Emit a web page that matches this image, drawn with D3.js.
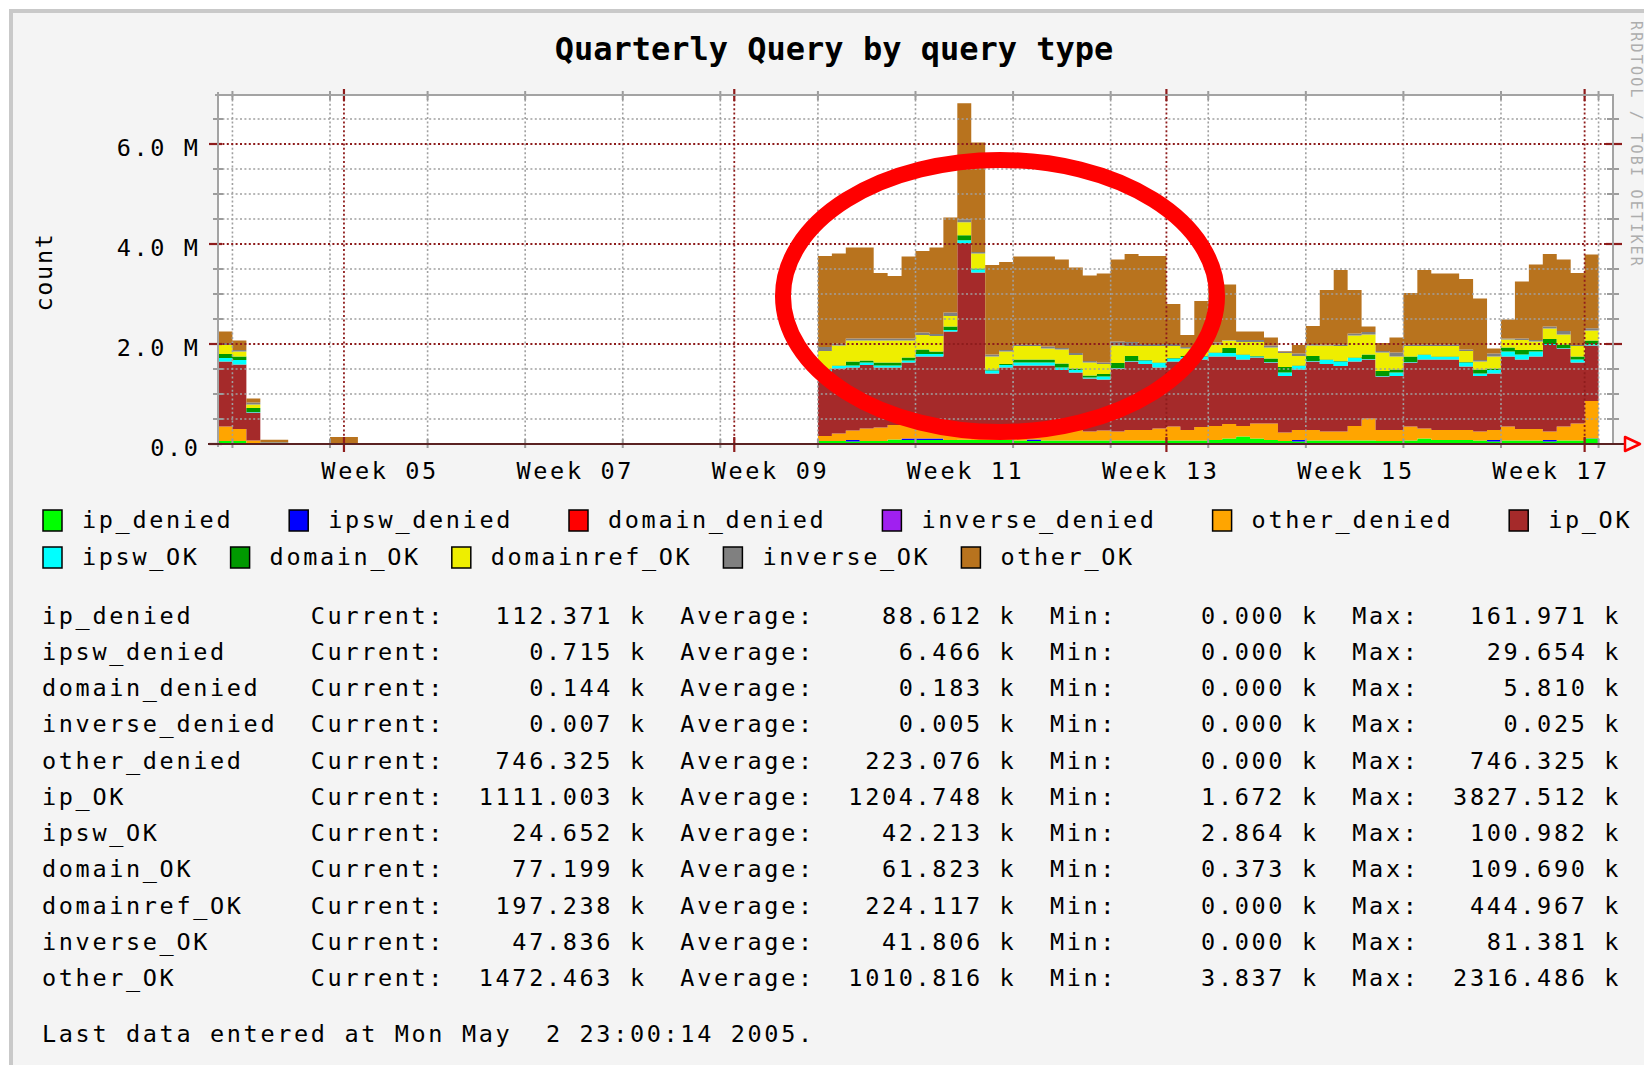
<!DOCTYPE html>
<html><head><meta charset="utf-8">
<script src="https://cdn.jsdelivr.net/npm/d3@7"></script>
<style>
html,body{margin:0;padding:0;background:#fff;}
svg{display:block;}
text{font-family:"DejaVu Sans Mono",monospace;fill:#000;}
.mono{white-space:pre;}
</style></head><body>
<svg id="c" width="1644" height="1065"></svg>
<script>
// ---------------- DATA (values in millions of queries, one per day) ----------------
// Two periods with data: Jan 23 - Feb 1 2005 (10 days) and Mar 7 - May 1 2005 (56 days)
const periods = [["2005-01-23", "2005-02-02"], ["2005-03-07", "2005-05-02"]];

const seriesNames = ["ip_denied","ipsw_denied","domain_denied","inverse_denied","other_denied",
                     "ip_OK","ipsw_OK","domain_OK","domainref_OK","inverse_OK","other_OK"];
const seriesColors = ["#00ff00","#0000ff","#ff0000","#a020f0","#ffa500",
                      "#a52a2a","#00ffff","#009900","#eeee00","#808080","#b8731e"];

const ip_denied = [
  .06,.06,.02,0,0,0,0,0,0,0,
  .06,.06,.05,.06,.06,.09,.08,.08,.08,.08,.08,.08,.08,.08,.07,.06,.07,.07,.07,.07,.07,.07,.07,.07,.07,
  .07,.07,.07,.08,.11,.15,.11,.08,.06,.05,.07,.07,.07,.07,.07,.06,.06,.07,.11,.08,.08,.08,.07,.05,.07,.07,.07,.05,.07,.07,
  .112];
const ipsw_denied = [
  0,0,0,0,0,0,0,0,0,0,
  0,0,.03,0,0,0,.03,.03,.03,0,0,0,0,0,0,.03,0,0,0,0,0,0,0,0,0,
  0,0,0,0,0,0,0,0,0,.03,0,0,0,0,0,0,0,0,0,0,0,0,0,.03,0,0,0,.03,0,0,
  .0007];
const domain_denied = [
  0,0,0,0,0,0,0,0,0,0,
  0,0,0,0,0,0,0,0,0,0,.0058,0,0,0,0,0,0,0,0,0,0,0,0,0,0,
  0,0,0,0,0,0,0,0,0,0,0,0,0,0,0,0,0,0,0,0,0,0,0,0,0,0,0,0,0,0,
  .000144];
const inverse_denied = [
  0,0,0,0,0,0,0,0,0,0,
  0,0,0,0,0,0,0,0,0,0,0,0,0,0,0,0,0,0,0,0,0,0,0,0,0,
  0,0,0,0,0,0,0,0,0,0,0,0,0,0,0,0,0,0,0,0,0,0,0,0,0,0,0,0,0,0,
  .000007];
const other_denied = [
  .29,.24,.05,.01,.01,.005,.005,.005,0,0,
  .10,.15,.19,.25,.27,.29,.29,.30,.30,.33,.10,.25,.30,.30,.31,.29,.31,.28,.21,.18,.20,.18,.21,.21,.24,
  .28,.21,.27,.28,.29,.21,.30,.33,.17,.20,.21,.18,.18,.29,.44,.22,.22,.28,.20,.20,.20,.20,.18,.20,.28,.23,.23,.17,.28,.34,
  .746];
const ip_OK = [
  1.30,1.29,.56,.02,.02,.0017,.002,.002,.01,.01,
  1.27,1.30,1.26,1.27,1.20,1.15,1.23,1.34,1.34,1.84,3.83,3.10,1.03,1.15,1.19,1.19,1.19,1.13,1.15,1.06,1.02,1.26,1.37,1.32,1.22,
  1.30,1.42,1.35,1.39,1.35,1.33,1.32,1.22,1.13,1.21,1.37,1.35,1.31,1.29,1.18,1.07,1.08,1.28,1.38,1.41,1.41,1.27,1.11,1.13,1.40,1.39,1.45,1.73,1.56,1.22,
  1.111];
const ipsw_OK = [
  .07,.09,.01,.003,.003,.003,.003,.003,.003,.003,
  .06,.05,.04,.05,.04,.04,.04,.05,.05,.03,.06,.06,.06,.05,.06,.06,.06,.05,.05,.02,.06,.01,.01,.07,.09,
  .06,.04,.06,.07,.07,.09,.02,.01,.07,.07,.01,.08,.09,.07,.01,.01,.07,.01,.09,.05,.05,.08,.05,.07,.10,.10,.10,.02,.01,.06,
  .0247];
const domain_OK = [
  .08,.07,.08,.002,.002,.001,.001,.001,.001,.001,
  .01,.01,.08,.04,.06,.06,.06,.09,.05,.07,.10,.02,.02,.02,.06,.06,.06,.08,.03,.04,.05,.10,.10,.01,.01,
  .01,.02,.01,.01,.10,.01,.01,.07,.11,.01,.10,.01,.01,.01,.09,.10,.06,.11,.01,.01,.01,.01,.08,.03,.08,.09,.03,.10,.07,.06,
  .0772];
const domainref_OK = [
  .18,.10,.07,0,0,0,0,0,0,0,
  .36,.40,.42,.40,.44,.44,.34,.29,.31,.21,.26,.30,.26,.25,.27,.27,.22,.28,.27,.26,.20,.35,.20,.28,.33,
  .24,.15,.23,.16,.15,.25,.28,.22,.28,.19,.21,.28,.30,.44,.40,.37,.26,.21,.17,.21,.21,.22,.16,.24,.16,.20,.17,.21,.20,.21,
  .1972];
const inverse_OK = [
  .04,.03,.04,.002,.002,0,0,0,.001,.001,
  .08,.04,.04,.04,.04,.04,.04,.05,.04,.07,.06,.03,.04,.03,.03,.03,.04,.03,.04,.03,.03,.08,.08,.04,.04,
  .04,.03,.02,.04,.01,.04,.04,.04,.03,.05,.03,.02,.03,.04,.05,.03,.08,.03,.03,.03,.03,.03,.03,.06,.02,.03,.03,.04,.07,.02,
  .0478];
const other_OK = [
  .23,.19,.08,.048,.048,.0038,.005,.005,.125,.125,
  1.82,1.80,1.82,1.82,1.31,1.25,1.64,1.63,1.73,1.90,2.32,2.19,1.79,1.76,1.76,1.76,1.80,1.77,1.71,1.71,1.78,1.64,1.76,1.76,1.76,
  .80,.24,.85,1.16,1.11,.17,.17,.16,.01,.17,.36,1.09,1.49,.87,.11,.16,.30,1.03,1.49,1.42,1.42,1.41,1.23,.10,.38,1.14,1.51,1.45,1.43,1.44,
  1.4725];

const yTicks = [0, 2, 4, 6];
const yTickLabels = ["0.0", "2.0 M", "4.0 M", "6.0 M"];
const weekLabels = ["Week 05","Week 07","Week 09","Week 11","Week 13","Week 15","Week 17"];
const weekLabelDates = ["2005-02-03T12:00Z","2005-02-17T12:00Z","2005-03-03T12:00Z","2005-03-17T12:00Z",
                        "2005-03-31T12:00Z","2005-04-14T12:00Z","2005-04-28T12:00Z"];

const statCurrent = ["112.371","0.715","0.144","0.007","746.325","1111.003","24.652","77.199","197.238","47.836","1472.463"];
const statAverage = ["88.612","6.466","0.183","0.005","223.076","1204.748","42.213","61.823","224.117","41.806","1010.816"];
const statMin     = ["0.000","0.000","0.000","0.000","0.000","1.672","2.864","0.373","0.000","0.000","3.837"];
const statMax     = ["161.971","29.654","5.810","0.025","746.325","3827.512","100.982","109.690","444.967","81.381","2316.486"];

const titleText = "Quarterly Query by query type";
const yAxisTitle = "count";
const footerText = "Last data entered at Mon May  2 23:00:14 2005.";
const watermark = "RRDTOOL / TOBI OETIKER";

// ---------------- LAYOUT ----------------
const W = 1644, H = 1065;
const plot = {left: 218, right: 1613, top: 95, bottom: 444};
const ADV = 16.8;            // monospace character advance
const FS = 23.5;             // text font size
const LS = ADV - FS * 0.6021; // letter spacing to reach advance

const svg = d3.select("#c");

// background + frame
svg.append("rect").attr("width", W).attr("height", H).attr("fill", "#ffffff");
svg.append("rect").attr("x", 9).attr("y", 9).attr("width", W - 9).attr("height", H - 9).attr("fill", "#c9c9c9");
svg.append("rect").attr("x", 13).attr("y", 13).attr("width", W - 13).attr("height", H - 13).attr("fill", "#f4f4f4");

// scales
const x = d3.scaleUtc()
  .domain([new Date("2005-01-23T00:00Z"), new Date("2005-05-03T00:00Z")])
  .range([plot.left + 0.5, plot.right - 0.5]);
const y = d3.scaleLinear().domain([0, 7]).range([plot.bottom, plot.bottom - 350]);

// canvas
svg.append("rect").attr("x", plot.left).attr("y", plot.top)
  .attr("width", plot.right - plot.left).attr("height", plot.bottom - plot.top).attr("fill", "#ffffff");

// build rows
const seriesArrays = [ip_denied, ipsw_denied, domain_denied, inverse_denied, other_denied,
                      ip_OK, ipsw_OK, domain_OK, domainref_OK, inverse_OK, other_OK];
let idx = 0;
const segments = periods.map(([s, e]) => {
  const days = d3.utcDay.range(new Date(s + "T00:00Z"), new Date(e + "T00:00Z"));
  const rows = days.map(d => {
    const r = {date: d};
    seriesNames.forEach((n, k) => r[n] = seriesArrays[k][idx]);
    idx++;
    return r;
  });
  // closing point so the last day's step has width
  const last = Object.assign({}, rows[rows.length - 1], {date: new Date(e + "T00:00Z")});
  rows.push(last);
  return rows;
});

const stack = d3.stack().keys(seriesNames);
const area = d3.area()
  .curve(d3.curveStepAfter)
  .x(d => x(d.data.date))
  .y0(d => y(d[0]))
  .y1(d => y(d[1]));

const gData = svg.append("g");
segments.forEach(rows => {
  const layers = stack(rows);
  layers.forEach((layer, k) => {
    gData.append("path").datum(layer)
      .attr("d", area)
      .attr("fill", seriesColors[k]);
  });
});

// grid
const gGrid = svg.append("g");
const minorY = d3.range(0.5, 7, 0.5).filter(v => v % 2 !== 0);
const mondays = d3.utcMonday.range(x.domain()[0], x.domain()[1]);
const months = d3.utcMonth.range(x.domain()[0], x.domain()[1]);
const dashMinor = "2,2.4";
gGrid.selectAll(".hmin").data(minorY).join("line")
  .attr("x1", plot.left).attr("x2", plot.right)
  .attr("y1", d => y(d)).attr("y2", d => y(d))
  .attr("stroke", "#a0a0a0").attr("stroke-width", 1.6).attr("stroke-dasharray", dashMinor);
gGrid.selectAll(".vmin").data(mondays).join("line")
  .attr("y1", plot.top).attr("y2", plot.bottom)
  .attr("x1", d => x(d)).attr("x2", d => x(d))
  .attr("stroke", "#a0a0a0").attr("stroke-width", 1.6).attr("stroke-dasharray", dashMinor);
gGrid.selectAll(".hmaj").data(yTicks.filter(v => v > 0)).join("line")
  .attr("x1", plot.left).attr("x2", plot.right)
  .attr("y1", d => y(d)).attr("y2", d => y(d))
  .attr("stroke", "#8e1c1c").attr("stroke-width", 1.8).attr("stroke-dasharray", dashMinor);
gGrid.selectAll(".vmaj").data(months).join("line")
  .attr("y1", plot.top).attr("y2", plot.bottom)
  .attr("x1", d => x(d)).attr("x2", d => x(d))
  .attr("stroke", "#8e1c1c").attr("stroke-width", 1.8).attr("stroke-dasharray", dashMinor);

// ticks
const gTicks = svg.append("g");
gTicks.selectAll(".ltm").data(minorY).join("line")
  .attr("x1", plot.left - 5).attr("x2", plot.left + 5)
  .attr("y1", d => y(d)).attr("y2", d => y(d)).attr("stroke", "#9c9c9c").attr("stroke-width", 2);
gTicks.selectAll(".rtm").data(minorY).join("line")
  .attr("x1", plot.right - 6).attr("x2", plot.right + 6)
  .attr("y1", d => y(d)).attr("y2", d => y(d)).attr("stroke", "#9c9c9c").attr("stroke-width", 2);
gTicks.selectAll(".ltM").data(yTicks).join("line")
  .attr("x1", plot.left - 9).attr("x2", plot.left + 4)
  .attr("y1", d => y(d)).attr("y2", d => y(d)).attr("stroke", "#8e1c1c").attr("stroke-width", 2.2);
gTicks.selectAll(".rtM").data(yTicks.filter(v => v > 0)).join("line")
  .attr("x1", plot.right - 7).attr("x2", plot.right + 9)
  .attr("y1", d => y(d)).attr("y2", d => y(d)).attr("stroke", "#8e1c1c").attr("stroke-width", 2.2);
gTicks.selectAll(".ttm").data(mondays).join("line")
  .attr("x1", d => x(d)).attr("x2", d => x(d))
  .attr("y1", plot.top - 4).attr("y2", plot.top + 5).attr("stroke", "#9c9c9c").attr("stroke-width", 2);
gTicks.selectAll(".btm").data(mondays).join("line")
  .attr("x1", d => x(d)).attr("x2", d => x(d))
  .attr("y1", plot.bottom - 5).attr("y2", plot.bottom + 4).attr("stroke", "#9c9c9c").attr("stroke-width", 2);
gTicks.selectAll(".ttM").data(months).join("line")
  .attr("x1", d => x(d)).attr("x2", d => x(d))
  .attr("y1", plot.top - 6).attr("y2", plot.top + 6).attr("stroke", "#8e1c1c").attr("stroke-width", 2.2);
gTicks.selectAll(".btM").data(months).join("line")
  .attr("x1", d => x(d)).attr("x2", d => x(d))
  .attr("y1", plot.bottom - 7).attr("y2", plot.bottom + 8).attr("stroke", "#8e1c1c").attr("stroke-width", 2.2);

// axis frame
const gAxis = svg.append("g");
gAxis.append("line").attr("x1", plot.left).attr("x2", plot.left).attr("y1", plot.top - 3).attr("y2", plot.bottom + 3)
  .attr("stroke", "#a3a3a3").attr("stroke-width", 2);
gAxis.append("line").attr("x1", plot.left - 3).attr("x2", plot.right + 1).attr("y1", plot.top).attr("y2", plot.top)
  .attr("stroke", "#a3a3a3").attr("stroke-width", 2);
gAxis.append("line").attr("x1", plot.right).attr("x2", plot.right).attr("y1", plot.top).attr("y2", plot.bottom)
  .attr("stroke", "#a3a3a3").attr("stroke-width", 2);
gAxis.append("line").attr("x1", plot.left - 10).attr("x2", 1626).attr("y1", plot.bottom).attr("y2", plot.bottom)
  .attr("stroke", "#5a2222").attr("stroke-width", 2);
gAxis.append("path")
  .attr("d", `M1625,${plot.bottom - 7}L1640,${plot.bottom}L1625,${plot.bottom + 7}Z`)
  .attr("fill", "#f4f4f4").attr("stroke", "#ff0000").attr("stroke-width", 2.5).attr("stroke-linejoin", "round");

// text helpers
function monoText(g, str, xx, yy, opts = {}) {
  const fs = opts.fs || FS;
  const ls = opts.ls !== undefined ? opts.ls : (ADV - fs * 0.6021);
  return g.append("text")
    .attr("class", "mono")
    .attr("x", xx).attr("y", yy)
    .attr("dominant-baseline", "central")
    .attr("font-size", fs)
    .attr("letter-spacing", ls)
    .text(str);
}

// title
svg.append("text").attr("x", 834).attr("y", 49)
  .attr("text-anchor", "middle").attr("dominant-baseline", "central")
  .attr("font-size", 32).attr("font-weight", "bold").text(titleText);

// y tick labels (right end at 198, drawn slightly below the grid line like the original)
yTicks.forEach((v, i) => {
  const s = yTickLabels[i];
  monoText(svg, s, 198 + LS - s.length * ADV, y(v) + 4);
});

// x labels
weekLabels.forEach((s, i) => {
  const cx = x(new Date(weekLabelDates[i]));
  monoText(svg, s, cx - (s.length * ADV - LS) / 2, 471);
});

// y axis title
svg.append("text").attr("class", "mono")
  .attr("transform", "translate(44,272) rotate(-90)")
  .attr("text-anchor", "middle").attr("dominant-baseline", "central")
  .attr("font-size", FS).attr("letter-spacing", LS - 1).text(yAxisTitle);

// watermark
svg.append("text").attr("class", "mono")
  .attr("transform", "translate(1636,21) rotate(90)")
  .attr("dominant-baseline", "central")
  .attr("font-size", 15).attr("letter-spacing", 2.2)
  .style("fill", "#adadad").text(watermark);

// legend
const legendRows = [[0, 1, 2, 3, 4, 5], [6, 7, 8, 9, 10]];
const legendGap = [56, 31];
const legendY = [520, 557];
legendRows.forEach((row, r) => {
  let sx = 43;
  row.forEach(k => {
    svg.append("rect").attr("x", sx).attr("y", legendY[r] - 10).attr("width", 19).attr("height", 21)
      .attr("fill", seriesColors[k]).attr("stroke", "#000").attr("stroke-width", 1.5);
    const tx = sx + 39;
    monoText(svg, seriesNames[k], tx, legendY[r]);
    sx = tx + seriesNames[k].length * ADV + legendGap[r];
  });
});

// stats table
const rowY0 = 615.5, rowStep = 36.25;
seriesNames.forEach((n, k) => {
  const line = n.padEnd(16) + "Current:" + statCurrent[k].padStart(10) + " k  " +
               "Average:" + statAverage[k].padStart(10) + " k  " +
               "Min:" + statMin[k].padStart(10) + " k  " +
               "Max:" + statMax[k].padStart(10) + " k";
  monoText(svg, line, 42, rowY0 + k * rowStep);
});
monoText(svg, footerText, 42, 1034);

// annotation ellipse
svg.append("ellipse").attr("cx", 1000).attr("cy", 296).attr("rx", 217).attr("ry", 136)
  .attr("fill", "none").attr("stroke", "#ff0000").attr("stroke-width", 16);
</script></body></html>
